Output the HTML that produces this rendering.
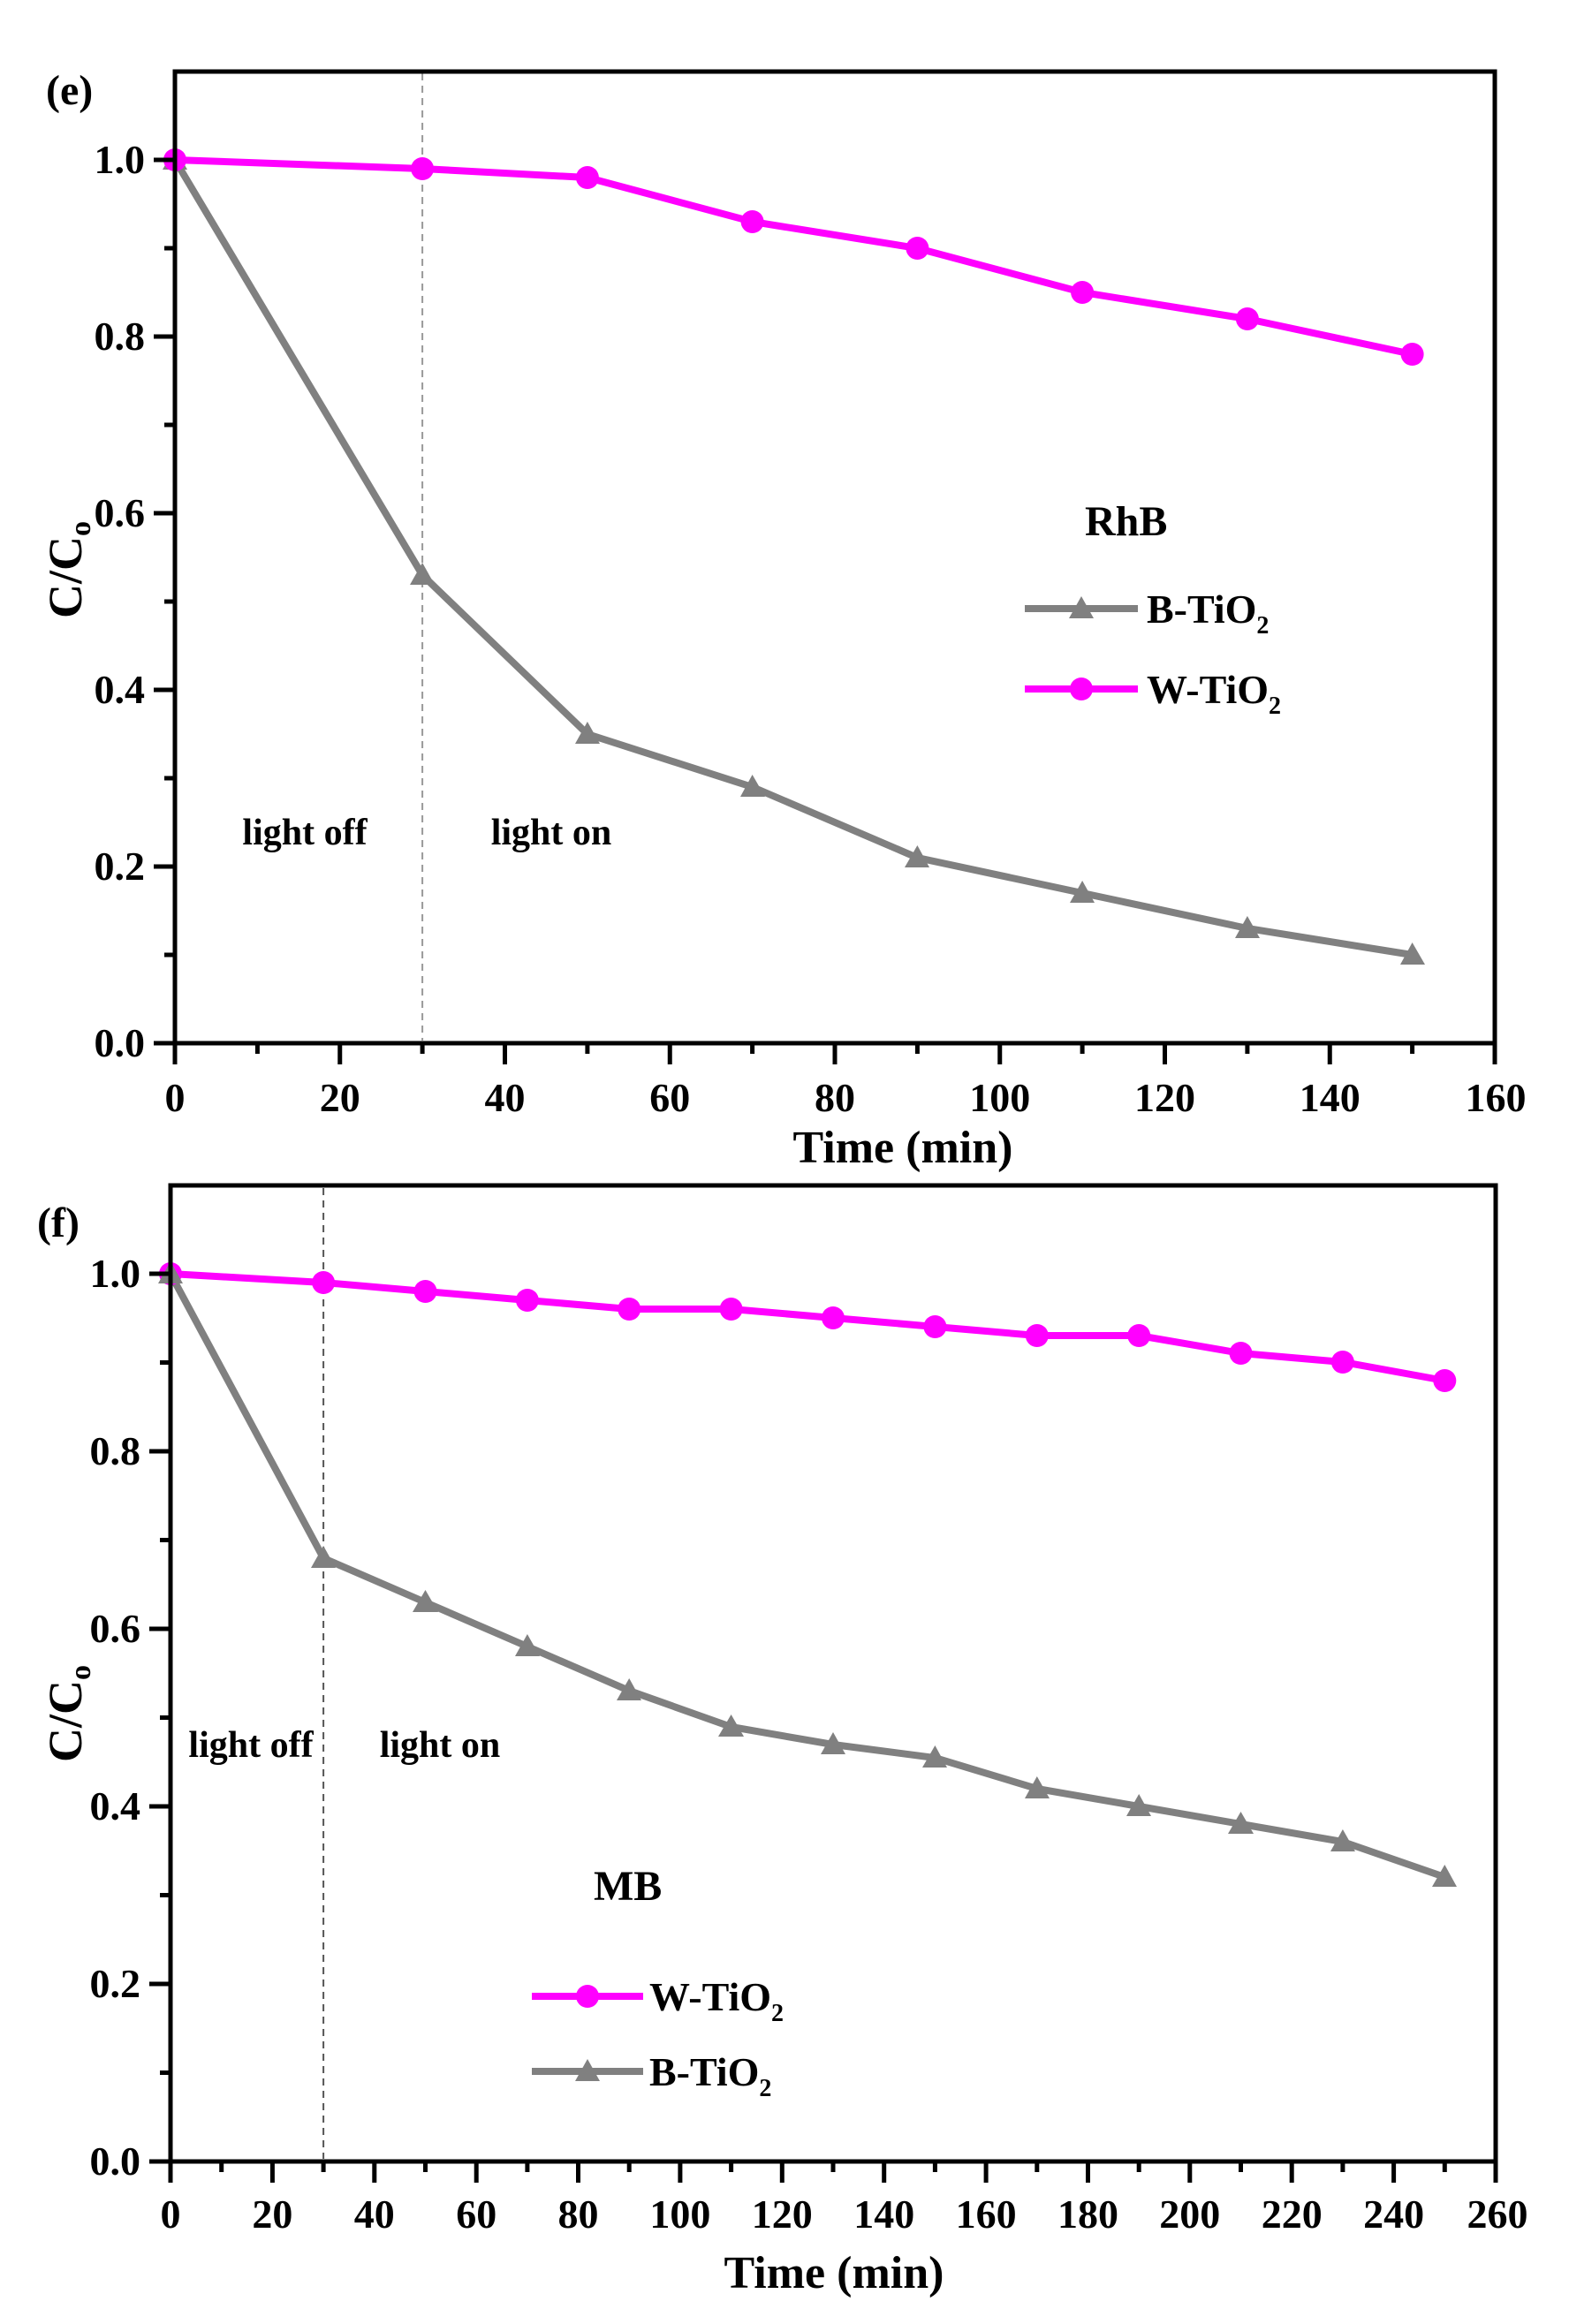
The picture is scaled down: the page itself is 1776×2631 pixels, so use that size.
<!DOCTYPE html>
<html><head><meta charset="utf-8"><style>
html,body{margin:0;padding:0;background:#fff}
svg text{font-family:"Liberation Serif",serif;font-weight:bold;fill:#000}
</style></head><body>
<svg width="1776" height="2626" viewBox="0 0 1776 2626" xmlns="http://www.w3.org/2000/svg">
<rect width="1776" height="2626" fill="#fff"/>

<!-- ===== TOP PLOT (e) ===== -->
<line x1="478.1" y1="83" x2="478.1" y2="1178" stroke="#999" stroke-width="2" stroke-dasharray="8,6"/>
<polyline fill="none" stroke="#808080" stroke-width="8" points="198,181 478.1,651 664.9,831 851.6,891 1038.4,971 1225.1,1011 1411.9,1051 1598.6,1081"/>
<polyline fill="none" stroke="#ff00ff" stroke-width="8" points="198,181 478.1,191 664.9,201 851.6,251 1038.4,281 1225.1,331 1411.9,361 1598.6,401"/>
<g fill="#808080">
<polygon points="198,167 212,192 184,192"/><polygon points="478.1,637 492,662 464,662"/><polygon points="664.9,817 679,842 651,842"/><polygon points="851.6,877 866,902 838,902"/><polygon points="1038.4,957 1052,982 1024,982"/><polygon points="1225.1,997 1239,1022 1211,1022"/><polygon points="1411.9,1037 1426,1062 1398,1062"/><polygon points="1598.6,1067 1613,1092 1585,1092"/>
</g>
<g fill="#ff00ff">
<circle cx="198" cy="181" r="13"/><circle cx="478.1" cy="191" r="13"/><circle cx="664.9" cy="201" r="13"/><circle cx="851.6" cy="251" r="13"/><circle cx="1038.4" cy="281" r="13"/><circle cx="1225.1" cy="331" r="13"/><circle cx="1411.9" cy="361" r="13"/><circle cx="1598.6" cy="401" r="13"/>
</g>
<rect x="198" y="81" width="1494" height="1100" fill="none" stroke="#000" stroke-width="5"/>
<g stroke="#000" stroke-width="5">
<line x1="198" y1="1181" x2="198" y2="1205"/><line x1="384.75" y1="1181" x2="384.75" y2="1205"/><line x1="571.5" y1="1181" x2="571.5" y2="1205"/><line x1="758.25" y1="1181" x2="758.25" y2="1205"/><line x1="945" y1="1181" x2="945" y2="1205"/><line x1="1131.75" y1="1181" x2="1131.75" y2="1205"/><line x1="1318.5" y1="1181" x2="1318.5" y2="1205"/><line x1="1505.25" y1="1181" x2="1505.25" y2="1205"/><line x1="1692" y1="1181" x2="1692" y2="1205"/>
<line x1="291.4" y1="1181" x2="291.4" y2="1193"/><line x1="478.1" y1="1181" x2="478.1" y2="1193"/><line x1="664.9" y1="1181" x2="664.9" y2="1193"/><line x1="851.6" y1="1181" x2="851.6" y2="1193"/><line x1="1038.4" y1="1181" x2="1038.4" y2="1193"/><line x1="1225.1" y1="1181" x2="1225.1" y2="1193"/><line x1="1411.9" y1="1181" x2="1411.9" y2="1193"/><line x1="1598.6" y1="1181" x2="1598.6" y2="1193"/>
<line x1="174" y1="1181" x2="198" y2="1181"/><line x1="174" y1="981" x2="198" y2="981"/><line x1="174" y1="781" x2="198" y2="781"/><line x1="174" y1="581" x2="198" y2="581"/><line x1="174" y1="381" x2="198" y2="381"/><line x1="174" y1="181" x2="198" y2="181"/>
<line x1="186" y1="1081" x2="198" y2="1081"/><line x1="186" y1="881" x2="198" y2="881"/><line x1="186" y1="681" x2="198" y2="681"/><line x1="186" y1="481" x2="198" y2="481"/><line x1="186" y1="281" x2="198" y2="281"/>
</g>
<g font-size="46" text-anchor="middle">
<text x="198" y="1258">0</text><text x="384.75" y="1258">20</text><text x="571.5" y="1258">40</text><text x="758.25" y="1258">60</text><text x="945" y="1258">80</text><text x="1131.75" y="1258">100</text><text x="1318.5" y="1258">120</text><text x="1505.25" y="1258">140</text><text x="1693" y="1258">160</text>
</g>
<g font-size="46" text-anchor="end">
<text x="164" y="1196">0.0</text><text x="164" y="996">0.2</text><text x="164" y="796">0.4</text><text x="164" y="596">0.6</text><text x="164" y="396">0.8</text><text x="164" y="196">1.0</text>
</g>
<text x="1022" y="1333" font-size="52" text-anchor="middle" transform="translate(0,-17)">Time (min)</text>
<text transform="translate(92,645) rotate(-90)" font-size="54" text-anchor="middle">C/C<tspan font-size="34" dy="10">o</tspan></text>
<text x="52" y="118" font-size="48">(e)</text>
<text x="1228" y="606" font-size="48">RhB</text>
<line x1="1160" y1="697" x2="1288" y2="697" stroke="#808080" stroke-width="8" transform="translate(0,-8)"/>
<polygon points="1224,675 1238,700 1210,700" fill="#808080"/>
<text x="1298" y="705" font-size="46">B-TiO<tspan font-size="28" dy="12">2</tspan></text>
<line x1="1160" y1="780" x2="1288" y2="780" stroke="#ff00ff" stroke-width="8"/>
<circle cx="1224" cy="780" r="13" fill="#ff00ff"/>
<text x="1298" y="796" font-size="46">W-TiO<tspan font-size="28" dy="12">2</tspan></text>
<text x="345" y="956" font-size="42" text-anchor="middle">light off</text>
<text x="624" y="956" font-size="42" text-anchor="middle">light on</text>

<!-- ===== BOTTOM PLOT (f) ===== -->
<line x1="366.1" y1="1345" x2="366.1" y2="2444" stroke="#555" stroke-width="2" stroke-dasharray="8,6"/>
<polyline fill="none" stroke="#808080" stroke-width="8" points="193,1442 366.1,1764 481.5,1814 596.9,1864 712.2,1914 827.6,1955 943,1975 1058.4,1990 1173.8,2025 1289.2,2045 1404.5,2065 1519.9,2085 1635.3,2125"/>
<polyline fill="none" stroke="#ff00ff" stroke-width="8" points="193,1442 366.1,1452 481.5,1462 596.9,1472 712.2,1482 827.6,1482 943,1492 1058.4,1502 1173.8,1512 1289.2,1512 1404.5,1532 1519.9,1542 1635.3,1563"/>
<g fill="#ff00ff">
<circle cx="193" cy="1442" r="13"/><circle cx="366.1" cy="1452" r="13"/><circle cx="481.5" cy="1462" r="13"/><circle cx="596.9" cy="1472" r="13"/><circle cx="712.2" cy="1482" r="13"/><circle cx="827.6" cy="1482" r="13"/><circle cx="943" cy="1492" r="13"/><circle cx="1058.4" cy="1502" r="13"/><circle cx="1173.8" cy="1512" r="13"/><circle cx="1289.2" cy="1512" r="13"/><circle cx="1404.5" cy="1532" r="13"/><circle cx="1519.9" cy="1542" r="13"/><circle cx="1635.3" cy="1563" r="13"/>
</g>
<g fill="#808080">
<polygon points="193,1428 207,1453 179,1453"/><polygon points="366.1,1750 380,1775 352,1775"/><polygon points="481.5,1800 496,1825 467,1825"/><polygon points="596.9,1850 611,1875 583,1875"/><polygon points="712.2,1900 726,1925 698,1925"/><polygon points="827.6,1941 842,1966 813,1966"/><polygon points="943,1961 957,1986 929,1986"/><polygon points="1058.4,1976 1072,2001 1044,2001"/><polygon points="1173.8,2011 1188,2036 1160,2036"/><polygon points="1289.2,2031 1303,2056 1275,2056"/><polygon points="1404.5,2051 1419,2076 1390,2076"/><polygon points="1519.9,2071 1534,2096 1506,2096"/><polygon points="1635.3,2111 1649,2136 1621,2136"/>
</g>
<rect x="193" y="1342" width="1500" height="1105" fill="none" stroke="#000" stroke-width="5"/>
<g stroke="#000" stroke-width="5">
<line x1="193" y1="2447" x2="193" y2="2471"/><line x1="308.4" y1="2447" x2="308.4" y2="2471"/><line x1="423.8" y1="2447" x2="423.8" y2="2471"/><line x1="539.2" y1="2447" x2="539.2" y2="2471"/><line x1="654.5" y1="2447" x2="654.5" y2="2471"/><line x1="769.9" y1="2447" x2="769.9" y2="2471"/><line x1="885.3" y1="2447" x2="885.3" y2="2471"/><line x1="1000.7" y1="2447" x2="1000.7" y2="2471"/><line x1="1116.1" y1="2447" x2="1116.1" y2="2471"/><line x1="1231.5" y1="2447" x2="1231.5" y2="2471"/><line x1="1346.8" y1="2447" x2="1346.8" y2="2471"/><line x1="1462.2" y1="2447" x2="1462.2" y2="2471"/><line x1="1577.6" y1="2447" x2="1577.6" y2="2471"/><line x1="1693" y1="2447" x2="1693" y2="2471"/>
<line x1="250.7" y1="2447" x2="250.7" y2="2459"/><line x1="366.1" y1="2447" x2="366.1" y2="2459"/><line x1="481.5" y1="2447" x2="481.5" y2="2459"/><line x1="596.9" y1="2447" x2="596.9" y2="2459"/><line x1="712.2" y1="2447" x2="712.2" y2="2459"/><line x1="827.6" y1="2447" x2="827.6" y2="2459"/><line x1="943" y1="2447" x2="943" y2="2459"/><line x1="1058.4" y1="2447" x2="1058.4" y2="2459"/><line x1="1173.8" y1="2447" x2="1173.8" y2="2459"/><line x1="1289.2" y1="2447" x2="1289.2" y2="2459"/><line x1="1404.5" y1="2447" x2="1404.5" y2="2459"/><line x1="1519.9" y1="2447" x2="1519.9" y2="2459"/><line x1="1635.3" y1="2447" x2="1635.3" y2="2459"/>
<line x1="169" y1="2447" x2="193" y2="2447"/><line x1="169" y1="2246" x2="193" y2="2246"/><line x1="169" y1="2045" x2="193" y2="2045"/><line x1="169" y1="1844" x2="193" y2="1844"/><line x1="169" y1="1643" x2="193" y2="1643"/><line x1="169" y1="1442" x2="193" y2="1442"/>
<line x1="181" y1="2346.5" x2="193" y2="2346.5"/><line x1="181" y1="2145.5" x2="193" y2="2145.5"/><line x1="181" y1="1944.5" x2="193" y2="1944.5"/><line x1="181" y1="1743.5" x2="193" y2="1743.5"/><line x1="181" y1="1542.5" x2="193" y2="1542.5"/>
</g>
<g font-size="46" text-anchor="middle">
<text x="193" y="2522">0</text><text x="308.4" y="2522">20</text><text x="423.8" y="2522">40</text><text x="539.2" y="2522">60</text><text x="654.5" y="2522">80</text><text x="769.9" y="2522">100</text><text x="885.3" y="2522">120</text><text x="1000.7" y="2522">140</text><text x="1116.1" y="2522">160</text><text x="1231.5" y="2522">180</text><text x="1346.8" y="2522">200</text><text x="1462.2" y="2522">220</text><text x="1577.6" y="2522">240</text><text x="1695" y="2522">260</text>
</g>
<g font-size="46" text-anchor="end">
<text x="159" y="2462">0.0</text><text x="159" y="2261">0.2</text><text x="159" y="2060">0.4</text><text x="159" y="1859">0.6</text><text x="159" y="1658">0.8</text><text x="159" y="1457">1.0</text>
</g>
<text x="944" y="2622" font-size="52" text-anchor="middle" transform="translate(0,-32)">Time (min)</text>
<text transform="translate(92,1940) rotate(-90)" font-size="54" text-anchor="middle">C/C<tspan font-size="34" dy="10">o</tspan></text>
<text x="42" y="1400" font-size="48">(f)</text>
<text x="672" y="2151" font-size="48">MB</text>
<line x1="602" y1="2260" x2="728" y2="2260" stroke="#ff00ff" stroke-width="8"/>
<circle cx="665" cy="2260" r="13" fill="#ff00ff"/>
<text x="735" y="2276" font-size="46">W-TiO<tspan font-size="28" dy="12">2</tspan></text>
<line x1="602" y1="2345" x2="728" y2="2345" stroke="#808080" stroke-width="8"/>
<polygon points="665,2331 679,2356 651,2356" fill="#808080"/>
<text x="735" y="2361" font-size="46">B-TiO<tspan font-size="28" dy="12">2</tspan></text>
<text x="284" y="1989" font-size="42" text-anchor="middle">light off</text>
<text x="498" y="1989" font-size="42" text-anchor="middle">light on</text>
</svg>
</body></html>
